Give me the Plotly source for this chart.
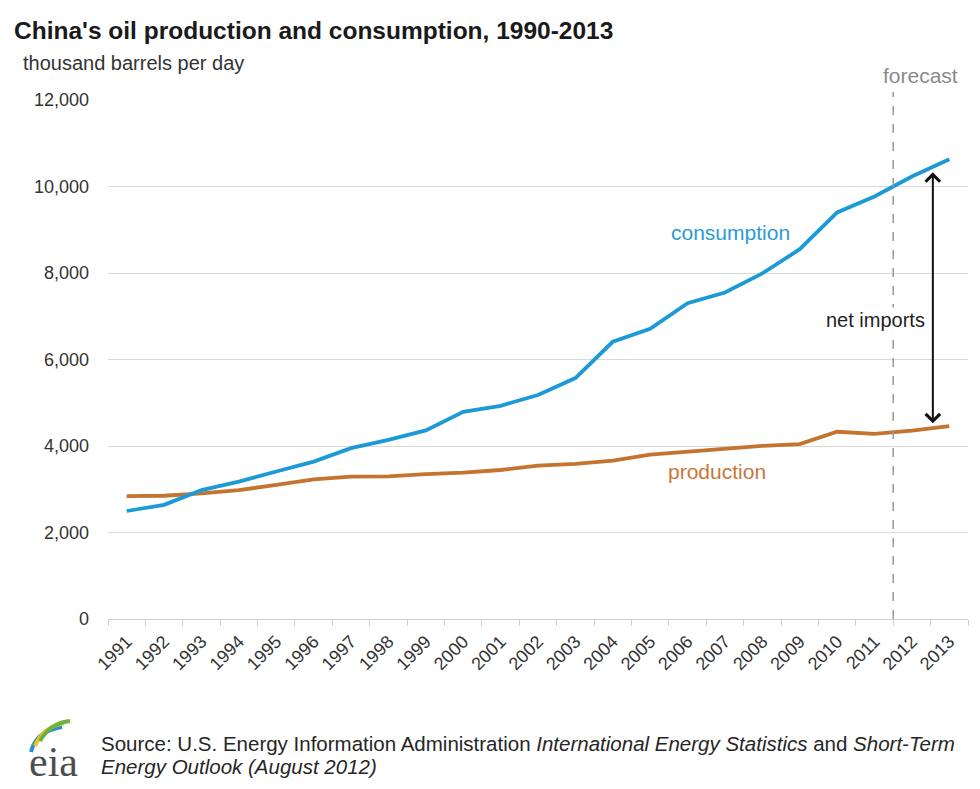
import plotly.graph_objects as go

years = [str(y) for y in range(1991, 2014)]
consumption = [2497, 2640, 2980, 3175, 3410, 3640, 3950, 4140, 4360, 4790, 4930, 5180,
               5570, 6410, 6710, 7300, 7550, 7990, 8550, 9400, 9770, 10230, 10630]
production = [2840, 2850, 2905, 2980, 3100, 3230, 3290, 3300, 3350, 3385, 3445, 3545,
              3585, 3660, 3800, 3870, 3945, 4005, 4045, 4330, 4280, 4355, 4460]
y_ticks = [0, 2000, 4000, 6000, 8000, 10000, 12000]
y_ticktext = ["0", "2,000", "4,000", "6,000", "8,000", "10,000", "12,000"]

# The page body has an 8px margin, so the figure is 8px smaller and all
# reference pixel positions are shifted by 8.
OFF = 8
W, H = 980 - OFF, 789 - OFF
L, R, T, B = 108 - OFF, 12, 100 - OFF, 170
PW, PH = W - L - R, H - T - B


def px(x):
    return (x - OFF - L) / PW


def py(y):
    return (H - B - (y - OFF)) / PH


BLUE = "#1c9ad6"
ORANGE = "#c4742f"
FONT = "Liberation Sans, Arial, sans-serif"

fig = go.Figure()
fig.add_trace(go.Scatter(x=years, y=production, mode="lines", name="production",
                         line=dict(color=ORANGE, width=3.8), hoverinfo="skip"))
fig.add_trace(go.Scatter(x=years, y=consumption, mode="lines", name="consumption",
                         line=dict(color=BLUE, width=3.8), hoverinfo="skip"))

# forecast dashed line at the boundary between 2011 and 2012
fig.add_shape(type="line", xref="x", yref="paper", x0=20.5, x1=20.5, y0=0, y1=py(92),
              line=dict(color="#9a9a9a", width=1.5, dash="dash"))

annotations = [
    dict(text="<b>China's oil production and consumption, 1990-2013</b>", xref="paper", yref="paper",
         x=px(12), y=py(30), xanchor="left", yanchor="middle", showarrow=False,
         font=dict(size=24.5, color="#1a1a1a", family=FONT)),
    dict(text="thousand barrels per day", xref="paper", yref="paper",
         x=px(21), y=py(63), xanchor="left", yanchor="middle", showarrow=False,
         font=dict(size=20, color="#333333", family=FONT)),
    dict(text="forecast", xref="paper", yref="paper",
         x=px(920), y=py(75), xanchor="center", yanchor="middle", showarrow=False,
         font=dict(size=21, color="#8a8a8a", family=FONT)),
    dict(text="consumption", xref="paper", yref="paper",
         x=px(730), y=py(232), xanchor="center", yanchor="middle", showarrow=False,
         font=dict(size=21, color="#2b9bd6", family=FONT)),
    dict(text="production", xref="paper", yref="paper",
         x=px(717), y=py(471), xanchor="center", yanchor="middle", showarrow=False,
         font=dict(size=21, color="#c9773a", family=FONT)),
    dict(text="net imports", xref="paper", yref="paper",
         x=px(875), y=py(320), xanchor="center", yanchor="middle", showarrow=False,
         bgcolor="white", font=dict(size=20, color="#1f1f1f", family=FONT)),
    dict(text="Source: U.S. Energy Information Administration <i>International Energy Statistics</i> and <i>Short-Term</i>",
         xref="paper", yref="paper", x=px(99), y=py(743), xanchor="left", yanchor="middle",
         showarrow=False, font=dict(size=20.5, color="#262626", family=FONT)),
    dict(text="<i>Energy Outlook (August 2012)</i>",
         xref="paper", yref="paper", x=px(99), y=py(766), xanchor="left", yanchor="middle",
         showarrow=False, font=dict(size=20.5, color="#262626", family=FONT)),
    dict(text="eia", xref="paper", yref="paper", x=px(53), y=py(762), xanchor="center",
         yanchor="middle", showarrow=False,
         font=dict(size=42, color="#4d4d4d", family="Liberation Serif, serif")),
    # net imports double arrow
    dict(text="", xref="x", yref="y", axref="x", ayref="y",
         x=21.56, y=10330, ax=21.56, ay=4490, showarrow=True,
         arrowside="end+start", arrowhead=4, startarrowhead=4, arrowsize=1.4,
         startarrowsize=1.4, arrowwidth=2, arrowcolor="#111111"),
]

# eia logo arcs
for (x0, y0, cx, cy, x1, y1, col) in [
    (31, 752, 36, 731, 62, 727, "#2a8fd0"),
    (35, 746, 43, 727, 64, 723, "#f2c318"),
    (40, 741, 50, 723, 70, 721, "#6cb33f"),
]:
    fig.add_shape(type="path", xref="paper", yref="paper",
                  path=f"M {px(x0)},{py(y0)} Q {px(cx)},{py(cy)} {px(x1)},{py(y1)}",
                  line=dict(color=col, width=4))

fig.update_layout(
    width=W, height=H,
    margin=dict(l=L, r=R, t=T, b=B),
    paper_bgcolor="white", plot_bgcolor="white",
    showlegend=False,
    annotations=annotations,
    font=dict(family=FONT, color="#333333"),
    xaxis=dict(type="category", tickson="boundaries", ticks="outside", ticklen=6,
               tickcolor="#d0d0d0", tickwidth=1, tickangle=-45, showgrid=False,
               showline=True, linecolor="#d0d0d0", linewidth=1, ticklabelstandoff=4,
               tickfont=dict(size=18, color="#333333", family=FONT), range=[-0.5, 22.5]),
    yaxis=dict(range=[0, 12000], tickvals=y_ticks, ticktext=y_ticktext, showgrid=True,
               gridcolor="#d9d9d9", gridwidth=1, zeroline=False, showline=False,
               ticks="", ticklabelstandoff=18,
               tickfont=dict(size=18, color="#333333", family=FONT)),
)

fig.write_html("out.html")
